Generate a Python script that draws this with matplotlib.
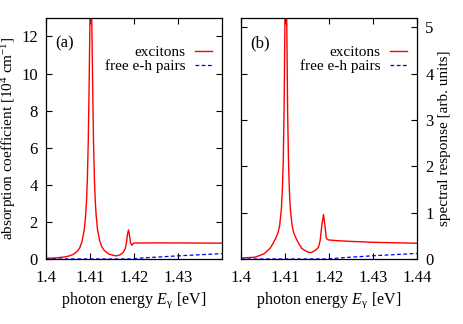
import matplotlib
matplotlib.use("Agg")
import matplotlib.pyplot as plt

# (a) absorption coefficient [10^4 cm^-1]
e_exc_a = [1.400, 1.4002, 1.4022, 1.4042, 1.4052, 1.4062, 1.4072, 1.4077, 1.4082, 1.4087,
           1.4090, 1.4092, 1.4094, 1.4096, 1.4098, 1.4100, 1.4102, 1.4104, 1.4106, 1.4108,
           1.4110, 1.4112, 1.4114, 1.4117, 1.4122, 1.4127, 1.4132, 1.4142, 1.4152, 1.4160,
           1.4168, 1.4175, 1.4180, 1.4183, 1.4185, 1.41875, 1.4190, 1.4192, 1.4195, 1.4197,
           1.4199, 1.425, 1.430, 1.435, 1.440]
a_exc = [0.035, 0.04, 0.06, 0.11, 0.16, 0.25, 0.44, 0.62, 0.96, 1.6,
         2.35, 3.1, 4.3, 6.3, 9.4, 13.0, 14.8, 13.0, 9.4, 6.3,
         4.3, 3.1, 2.35, 1.6, 0.98, 0.65, 0.47, 0.28, 0.2, 0.17,
         0.22, 0.35, 0.55, 0.9, 1.3, 1.57, 1.25, 0.9, 0.74, 0.8,
         0.86, 0.87, 0.865, 0.86, 0.855]
e_free = [1.400, 1.4195, 1.420, 1.422, 1.425, 1.430, 1.435, 1.440]
a_free = [0.0, 0.0, 0.01, 0.06, 0.10, 0.17, 0.23, 0.29]

# (b) spectral response [arb. units]
e_exc_b = [1.400, 1.4032, 1.4052, 1.4066, 1.4072, 1.4079, 1.4084, 1.4088, 1.4092, 1.4094,
           1.4096, 1.4098, 1.4100, 1.4102, 1.4104, 1.4106, 1.4108, 1.4110, 1.4112, 1.4116,
           1.4120, 1.4125, 1.4132, 1.4138, 1.4146, 1.4155, 1.4160, 1.4168, 1.4176, 1.4180,
           1.4184, 1.41876, 1.4191, 1.4194, 1.4197, 1.420, 1.422, 1.425, 1.430, 1.435, 1.440]
b_exc = [0.02, 0.04, 0.11, 0.23, 0.32, 0.45, 0.56, 0.73, 1.1, 1.49,
         2.1, 3.2, 5.2, 8.0, 5.2, 3.2, 2.1, 1.49, 1.1, 0.73,
         0.56, 0.45, 0.32, 0.23, 0.18, 0.14, 0.14, 0.18, 0.25, 0.4,
         0.75, 0.96, 0.7, 0.45, 0.42, 0.41, 0.395, 0.38, 0.36, 0.35, 0.34]
b_free = [0.0, 0.0, 0.005, 0.02, 0.04, 0.07, 0.095, 0.12]

xticks_a = [1.40, 1.41, 1.42, 1.43]
xticklabels_a = ["1.4", "1.41", "1.42", "1.43"]
xticks_b = [1.40, 1.41, 1.42, 1.43, 1.44]
xticklabels_b = ["1.4", "1.41", "1.42", "1.43", "1.44"]

plt.rcParams["font.family"] = ["Liberation Serif", "DejaVu Serif"]
plt.rcParams["font.size"] = 12
plt.rcParams["mathtext.fontset"] = "custom"
plt.rcParams["mathtext.rm"] = "Liberation Serif"
plt.rcParams["mathtext.it"] = "Liberation Serif:italic"
plt.rcParams["mathtext.default"] = "rm"

fig = plt.figure(figsize=(4.63, 3.24), dpi=100)
ax1 = fig.add_axes([0.0994, 0.2006, 0.380, 0.744])
ax2 = fig.add_axes([0.5205, 0.2006, 0.380, 0.744])

red = "#ff0000"
blue = "#0000ee"

ax1.plot(e_exc_a, a_exc, color=red, lw=1.0, label="excitons")
ax1.plot(e_free, a_free, color=blue, lw=0.9, ls=(0, (3, 2)), label="free e-h pairs")
ax2.plot(e_exc_b, b_exc, color=red, lw=1.0, label="excitons")
ax2.plot(e_free, b_free, color=blue, lw=0.9, ls=(0, (3, 2)), label="free e-h pairs")

ax1.set_xlim(1.4, 1.44)
ax1.set_ylim(0, 13)
ax2.set_xlim(1.4, 1.44)
ax2.set_ylim(0, 5.2)

ax1.set_xticks(xticks_a)
ax1.set_xticklabels(xticklabels_a)
ax1.set_yticks(range(0, 13, 2))
ax2.set_xticks(xticks_b)
ax2.set_xticklabels(xticklabels_b)
ax2.set_yticks(range(0, 6))

for ax in (ax1, ax2):
    ax.tick_params(direction="in", top=True, right=True, left=True, length=4, width=0.8)
    ax.tick_params(axis="x", pad=8)
    ax.tick_params(axis="y", pad=6)
    for s in ax.spines.values():
        s.set_linewidth(0.9)
    ax.set_xlabel(r"photon energy $\mathit{E}_{\gamma}$ [eV]", fontsize=11.5, labelpad=3)
    ax.legend(loc="upper right", bbox_to_anchor=(0.945, 0.885), frameon=False,
              fontsize=11, markerfirst=False, handlelength=1.1, handletextpad=0.65,
              labelspacing=0.0, borderpad=0, borderaxespad=0)

ax2.tick_params(labelleft=False, labelright=True)
ax2.yaxis.set_label_position("right")

ax1.set_ylabel(r"absorption coefficient [10$^4$ cm$^{-1}$]", fontsize=11)
ax2.set_ylabel("spectral response [arb. units]", fontsize=11)
ax1.yaxis.set_label_coords(-0.16, 0.5)
ax2.yaxis.set_label_coords(1.12, 0.5)

ax1.text(0.05, 0.896, "(a)", transform=ax1.transAxes, ha="left", va="center")
ax2.text(0.05, 0.896, "(b)", transform=ax2.transAxes, ha="left", va="center")

fig.savefig("out.png", dpi=100)
